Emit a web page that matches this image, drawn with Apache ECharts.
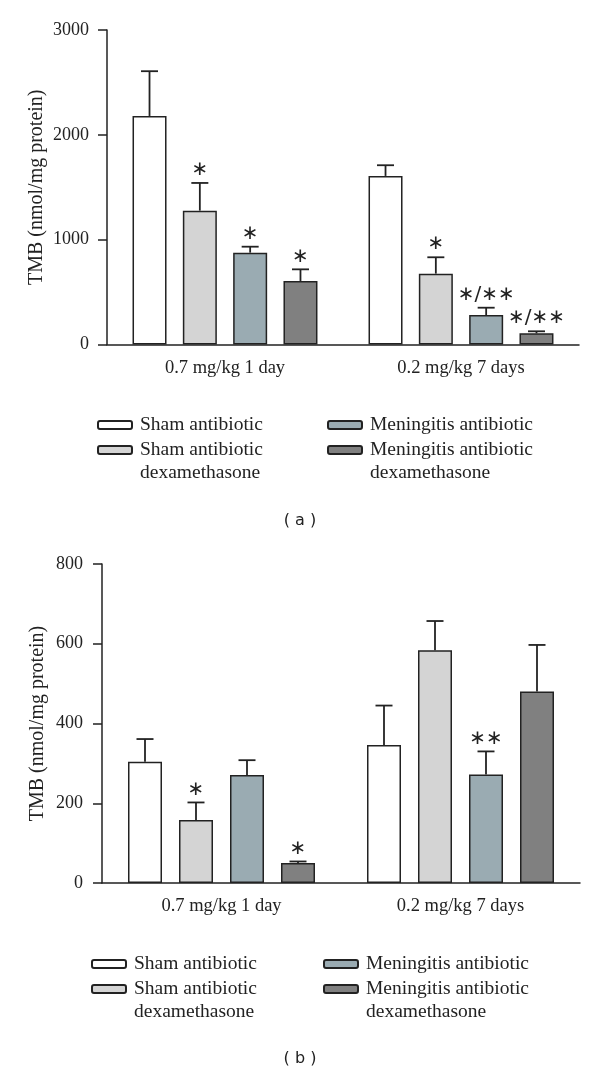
<!DOCTYPE html>
<html>
<head>
<meta charset="utf-8">
<title>TMB bar charts</title>
<script src="https://cdn.jsdelivr.net/npm/echarts@6/dist/echarts.min.js"></script>
<style>
    html, body { margin: 0; padding: 0; background: #fff; }
    #chart { width: 600px; height: 1073px; }
</style>
</head>
<body>
<div id="chart"></div>
<script>
// categories and group names
const categories = ['0.7 mg/kg 1 day', '0.2 mg/kg 7 days'];
const groupNames = ['Sham antibiotic', 'Sham antibiotic\ndexamethasone', 'Meningitis antibiotic', 'Meningitis antibiotic\ndexamethasone'];

// (a) means, SEM (upper whisker) and marks
const shamA = [2180, 1608];
const shamDexA = [1277, 676];
const menA = [876, 281];
const menDexA = [606, 107];
const shamErrA = [427, 102];
const shamDexErrA = [264, 156];
const menErrA = [57, 70];
const menDexErrA = [111, 19];
const starsA = [['', ''], ['*', '*'], ['*', '*/**'], ['*', '*/**']];
const ticksA = [0, 1000, 2000, 3000];

// (b)
const shamB = [304, 346];
const shamDexB = [158, 584];
const menB = [271, 272];
const menDexB = [50, 480];
const shamErrB = [57, 99];
const shamDexErrB = [44, 73];
const menErrB = [37, 58];
const menDexErrB = [4, 117];
const starsB = [['', ''], ['*', ''], ['', '**'], ['*', '']];
const ticksB = [0, 200, 400, 600, 800];

const colors = ['#ffffff', '#d4d4d4', '#9aabb2', '#808080'];
const INK = '#222';
const SERIF = '"Liberation Serif", "DejaVu Serif", serif';
const BAR_W = 34;

let _barSeries = function(gridIdx, idx, values, gap){
    return {
        type: 'bar',
        name: groupNames[idx],
        xAxisIndex: gridIdx,
        yAxisIndex: gridIdx,
        data: values,
        barWidth: BAR_W,
        barGap: (gap * 100) + '%',
        itemStyle: {
            color: colors[idx],
            borderColor: INK,
            borderWidth: 1.5
        }
    };
};

// whisker + cap + significance mark, placed over bar idx of the group
let _errorSeries = function(gridIdx, idx, means, errs, stars, gap){
    return {
        type: 'custom',
        xAxisIndex: gridIdx,
        yAxisIndex: gridIdx,
        z: 5,
        silent: true,
        data: means.map((m, i) => [i, m, errs[i]]),
        renderItem: function(params, api){
            let cat = api.value(0);
            let base = api.coord([cat, api.value(1)]);
            let top = api.coord([cat, api.value(1) + api.value(2)]);
            let total = 4 * BAR_W + 3 * BAR_W * gap;
            let x = base[0] - total / 2 + idx * BAR_W * (1 + gap) + BAR_W / 2;
            let lineStyle = { stroke: INK, lineWidth: 1.8 };
            let children = [
                { type: 'line', shape: { x1: x, y1: base[1], x2: x, y2: top[1] }, style: lineStyle },
                { type: 'line', shape: { x1: x - 8.5, y1: top[1], x2: x + 8.5, y2: top[1] }, style: lineStyle }
            ];
            let mark = stars[params.dataIndex];
            if (mark){
                children.push({
                    type: 'text',
                    style: {
                        text: mark.replace(/\*/g, '\u2217'),
                        x: x,
                        y: top[1] - 3,
                        align: 'center',
                        verticalAlign: 'bottom',
                        font: '20px "DejaVu Sans"',
                        fill: INK
                    }
                });
            }
            return { type: 'group', children: children };
        }
    };
};

let _axisLine = { show: true, lineStyle: { color: INK, width: 1.5 } };

let _xAxis = function(gridIdx){
    return {
        gridIndex: gridIdx,
        type: 'category',
        data: categories,
        axisLine: _axisLine,
        axisTick: { alignWithLabel: true, length: 8, lineStyle: { color: INK, width: 1.5 } },
        axisLabel: { margin: 14, fontSize: 18.5, fontFamily: SERIF, color: INK }
    };
};

let _yAxis = function(gridIdx, ticks, margin, nameGap){
    return {
        gridIndex: gridIdx,
        type: 'value',
        min: ticks[0],
        max: ticks[ticks.length - 1],
        interval: ticks[1] - ticks[0],
        splitLine: { show: false },
        axisLine: _axisLine,
        axisTick: { show: true, length: 9, lineStyle: { color: INK, width: 1.5 } },
        axisLabel: { margin: margin, fontSize: 18, fontFamily: SERIF, color: INK, formatter: v => String(v) },
        name: 'TMB (nmol/mg protein)',
        nameLocation: 'middle',
        nameGap: nameGap,
        nameMoveOverlap: false,
        nameTextStyle: { fontSize: 20, fontFamily: SERIF, color: INK }
    };
};

// one legend per entry so every swatch sits on the first text line
let _legend = function(left, rowCenter, name){
    let twoLine = name.indexOf('\n') >= 0;
    return {
        orient: 'vertical',
        left: left,
        top: rowCenter - (twoLine ? 34.5 : 11.5),
        padding: 0,
        itemWidth: 34,
        itemHeight: 8,
        icon: 'roundRect',
        selectedMode: false,
        formatter: n => (twoLine ? '\n' + n : n),
        textStyle: { fontSize: 19.5, fontFamily: SERIF, color: INK, lineHeight: 23, padding: [0, 0, 0, 3] },
        data: [name]
    };
};

const GAP_A = 0.48;
const GAP_B = 0.5;

let series = [];
[shamA, shamDexA, menA, menDexA].forEach((v, i) => series.push(_barSeries(0, i, v, GAP_A)));
[shamB, shamDexB, menB, menDexB].forEach((v, i) => series.push(_barSeries(1, i, v, GAP_B)));
[shamErrA, shamDexErrA, menErrA, menDexErrA].forEach((e, i) =>
    series.push(_errorSeries(0, i, [shamA, shamDexA, menA, menDexA][i], e, starsA[i], GAP_A)));
[shamErrB, shamDexErrB, menErrB, menDexErrB].forEach((e, i) =>
    series.push(_errorSeries(1, i, [shamB, shamDexB, menB, menDexB][i], e, starsB[i], GAP_B)));

let option = {
    animation: false,
    backgroundColor: '#fff',
    title: [
        { text: '( a )', left: 'center', top: 513, padding: 0,
          textStyle: { fontFamily: '"DejaVu Sans"', fontSize: 16, fontWeight: 'normal', color: INK } },
        { text: '( b )', left: 'center', top: 1051, padding: 0,
          textStyle: { fontFamily: '"DejaVu Sans"', fontSize: 16, fontWeight: 'normal', color: INK } }
    ],
    grid: [
        { left: 107, top: 30, width: 472, height: 314.5, outerBoundsMode: 'none' },
        { left: 102, top: 564, width: 478, height: 319, outerBoundsMode: 'none' }
    ],
    xAxis: [_xAxis(0), _xAxis(1)],
    yAxis: [_yAxis(0, ticksA, 18, 60), _yAxis(1, ticksB, 19, 54)],
    legend: [
        _legend(97, 425, groupNames[0]),
        _legend(97, 450, groupNames[1]),
        _legend(327, 425, groupNames[2]),
        _legend(327, 450, groupNames[3]),
        _legend(91, 964, groupNames[0]),
        _legend(91, 989, groupNames[1]),
        _legend(323, 964, groupNames[2]),
        _legend(323, 989, groupNames[3])
    ],
    series: series
};

let chart = echarts.init(document.getElementById('chart'));
chart.setOption(option);
</script>
</body>
</html>
